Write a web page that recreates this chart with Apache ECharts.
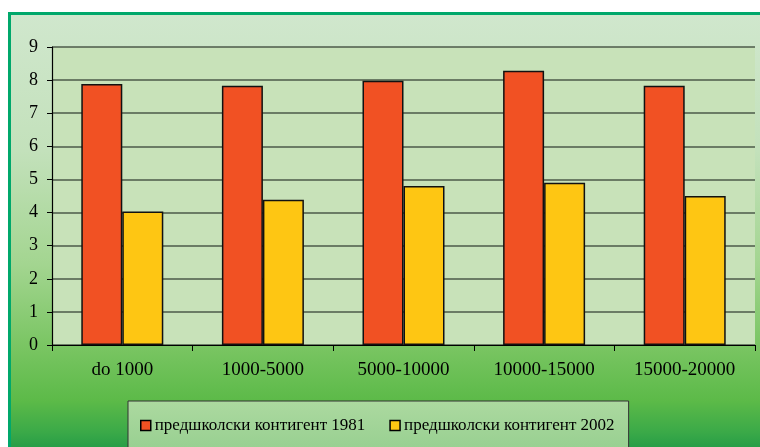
<!DOCTYPE html>
<html><head><meta charset="utf-8">
<script src="https://cdn.jsdelivr.net/npm/echarts@6/dist/echarts.min.js"></script>
<style>
html,body{margin:0;padding:0;background:#fff;width:760px;height:447px;overflow:hidden;}
#bg{position:absolute;left:8px;top:12px;width:780px;height:460px;border:3px solid #00a86b;box-sizing:border-box;
background:linear-gradient(to bottom,#d0e7cd 0%,#c3e1bb 30%,#a3d590 55%,#7cc665 72%,#5cba48 85%,#3aa948 92%,#0b8c45 100%);}
#chart{position:absolute;left:0;top:0;width:760px;height:447px;}
</style></head>
<body>
<div id="bg"></div>
<div id="chart"></div>
<script>
var categories = ['do 1000', '1000-5000', '5000-10000', '10000-15000', '15000-20000'];
var seriesNames = ['предшколски контигент 1981', 'предшколски контигент 2002'];
var values1981 = [7.88, 7.83, 7.98, 8.28, 7.83];
var values2002 = [4.03, 4.39, 4.80, 4.90, 4.50];
var yTicks = { min: 0, max: 9, interval: 1 };

var chart = echarts.init(document.getElementById('chart'), null, {renderer: 'canvas'});
var font = 'Liberation Serif';
chart.setOption({
  backgroundColor: 'transparent',
  animation: false,
  textStyle: { fontFamily: font },
  grid: { left: 52, right: 5, top: 47, bottom: 102, show: true, backgroundColor: '#c8e2b9', borderWidth: 0 },
  legend: {
    left: 128, top: 401, width: 480,
    padding: [16, 14, 30, 12],
    itemWidth: 10, itemHeight: 10, itemGap: 24,
    icon: 'rect',
    backgroundColor: new echarts.graphic.LinearGradient(0, 0, 0, 1, [
      {offset: 0, color: '#acd9a0'}, {offset: 1, color: '#92cd8c'}]),
    borderColor: '#333', borderWidth: 1,
    textStyle: { fontFamily: font, fontSize: 17, color: '#000', padding: [0, 0, 0, -1] },
    itemStyle: { borderColor: '#000', borderWidth: 1.5 },
    data: seriesNames
  },
  xAxis: {
    type: 'category', data: categories,
    axisLine: { lineStyle: { color: '#000', width: 1.2 } },
    axisTick: { show: true, length: 6, lineStyle: { color: '#000' } },
    axisLabel: { color: '#000', fontFamily: font, fontSize: 19, margin: 16 }
  },
  yAxis: {
    type: 'value', min: yTicks.min, max: yTicks.max, interval: yTicks.interval,
    axisLine: { show: true, lineStyle: { color: '#000', width: 1.2 } },
    axisTick: { show: true, length: 5, lineStyle: { color: '#000' } },
    axisLabel: { color: '#000', fontFamily: font, fontSize: 18, margin: 14 },
    splitLine: { show: true, lineStyle: { color: '#4d5a4a', width: 1.5 } }
  },
  series: [
    { name: seriesNames[0], type: 'bar', data: values1981, barWidth: 41, barGap: '0%',
      itemStyle: { color: '#f15123', borderColor: '#111', borderWidth: 1.5 } },
    { name: seriesNames[1], type: 'bar', data: values2002, barWidth: 41,
      itemStyle: { color: '#fec613', borderColor: '#111', borderWidth: 1.5 } }
  ]
});
</script>
</body></html>
